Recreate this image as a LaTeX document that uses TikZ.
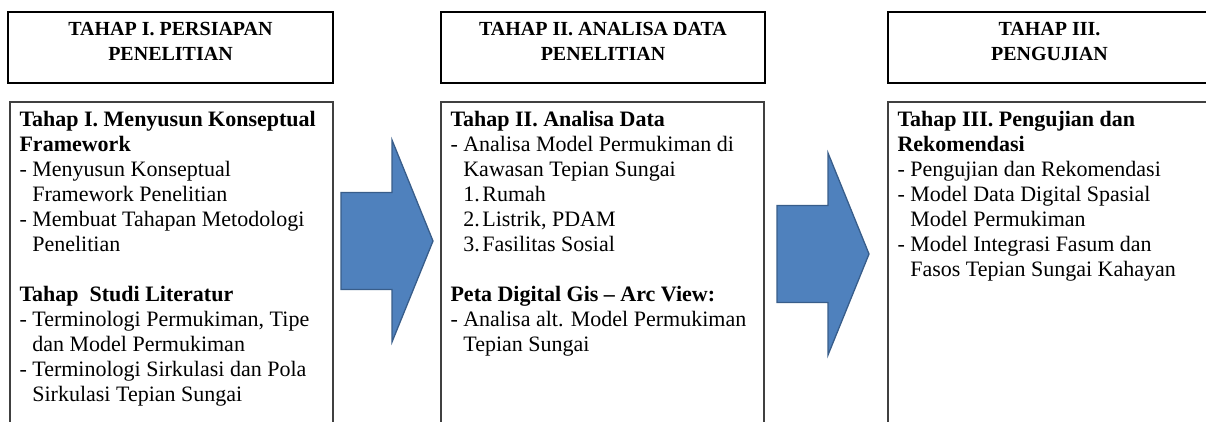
\documentclass[tikz,border=0pt]{standalone}
\usepackage{fontspec}
\setmainfont{Liberation Serif}
\usepackage{tikz}
\usetikzlibrary{positioning,calc}
\definecolor{TPblue}{HTML}{4F81BD}
\definecolor{TPblueDark}{HTML}{385D8A}
\definecolor{TPline}{HTML}{404040}
\tikzset{
  headbox/.style={draw=black, line width=1.6pt, minimum height=71pt, inner sep=0pt},
  bodybox/.style={draw=TPline, line width=1.3pt, minimum height=340pt, inner sep=0pt},
  headtext/.style={align=center, inner sep=0pt, anchor=base, font=\fontsize{20}{25}\selectfont\bfseries},
  bodytext/.style={align=left, inner sep=0pt, anchor=base west, font=\fontsize{22}{25}\selectfont},
  blockarr/.style={draw=TPblueDark, fill=TPblue, line width=1.3pt, line join=miter}
}
\newcommand{\itemdash}{\makebox[12.8pt][l]{-}}
\newcommand{\itemskip}{\hspace*{12.8pt}}
\newcommand{\numitem}[1]{\makebox[19pt][l]{#1}}
\newcommand{\blockarrow}[1]{%
  \draw[blockarr] ($(#1)+(0,-48.5)$) -- ++(51,0) -- ++(0,-52.5) -- ($(#1)+(92,0)$)
    -- ($(#1)+(51,101)$) -- ++(0,-52.5) -- ++(-51,0) -- cycle;}

\begin{document}
\begin{tikzpicture}[x=1pt, y=-1pt]
  \useasboundingbox (0,0) rectangle (1206,421);
  \clip (0,0) rectangle (1206,421);

  \node[headbox, minimum width=325pt] (h1) at (170.5,47.5) {};
  \node[headbox, minimum width=324pt] (h2) at (603,47.5) {};
  \node[headbox, minimum width=323pt] (h3) at (1049.5,47.5) {};
  % base anchor sits on the last line of a multi-line node
  \node[headtext] (t1) at ($(h1.north)+(0,49.5)$) {TAHAP I. PERSIAPAN\\PENELITIAN};
  \node[headtext] (t2) at ($(h2.north)+(0,49.5)$) {TAHAP II. ANALISA DATA\\PENELITIAN};
  \node[headtext] (t3) at ($(h3.north)+(0,49.5)$) {TAHAP III.\\PENGUJIAN};

  \node[bodybox, minimum width=323pt] (b1) at (171.5,272) {};
  \node[bodybox, minimum width=323pt] (b2) at (602.5,272) {};
  \node[bodybox, minimum width=324pt] (b3) at (1050,272) {};

  \node[bodytext] (x1) at ($(b1.north west)+(10,300.3)$) {%
    \textbf{Tahap I. Menyusun Konseptual}\\
    \textbf{Framework}\\
    \itemdash Menyusun Konseptual\\
    \itemskip Framework Penelitian\\
    \itemdash Membuat Tahapan Metodologi\\
    \itemskip Penelitian\\[25pt]
    \textbf{Tahap\ \ Studi Literatur}\\
    \itemdash Terminologi Permukiman, Tipe\\
    \itemskip dan Model Permukiman\\
    \itemdash Terminologi Sirkulasi dan Pola\\
    \itemskip Sirkulasi Tepian Sungai};
  \node[bodytext] (x2) at ($(b2.north west)+(10,250.3)$) {%
    \textbf{Tahap II. Analisa Data}\\
    \itemdash Analisa Model Permukiman di\\
    \itemskip Kawasan Tepian Sungai\\
    \itemskip\numitem{1.}Rumah\\
    \itemskip\numitem{2.}Listrik, PDAM\\
    \itemskip\numitem{3.}Fasilitas Sosial\\[25pt]
    \textbf{Peta Digital Gis – Arc View:}\\
    \itemdash Analisa alt. Model Permukiman\\
    \itemskip Tepian Sungai};
  \node[bodytext] (x3) at ($(b3.north west)+(10,175.3)$) {%
    \textbf{Tahap III. Pengujian dan}\\
    \textbf{Rekomendasi}\\
    \itemdash Pengujian dan Rekomendasi\\
    \itemdash Model Data Digital Spasial\\
    \itemskip Model Permukiman\\
    \itemdash Model Integrasi Fasum dan\\
    \itemskip Fasos Tepian Sungai Kahayan};

  \coordinate (a1) at (341,241);
  \coordinate (a2) at (777,254);
  \blockarrow{a1}
  \blockarrow{a2}
\end{tikzpicture}
\end{document}
